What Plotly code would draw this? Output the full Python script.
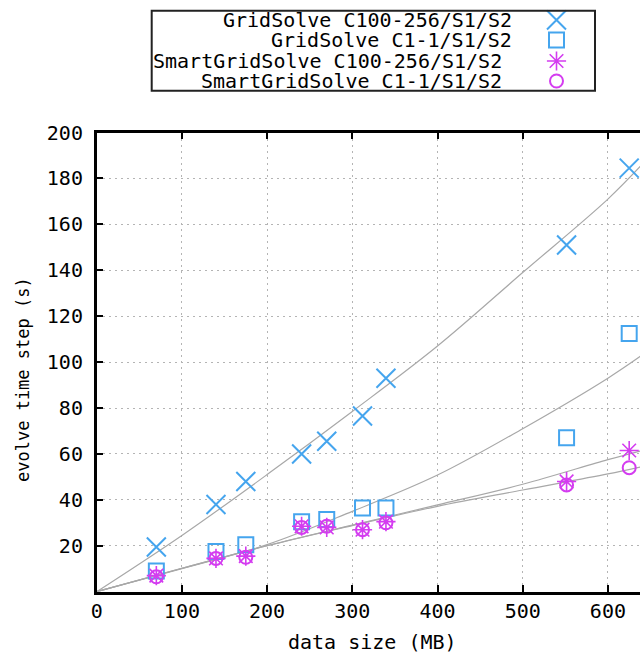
import plotly.graph_objects as go

# ---------------- data ----------------
data_size = [70, 140, 175, 240.5, 270, 312, 339.5, 551.5, 625]
gs_c100 = [19.5, 38, 48, 60, 65.5, 76.5, 93, 151, 184.5]
gs_c1 = [9, 17.5, 20.5, 30.5, 31.5, 36.5, 36.5, 67, 112.5]
sgs_c100 = [7, 14.5, 15.5, 28.5, 28, 27, 30.5, 48, 61.5]
sgs_c1 = [6.5, 14.5, 15, 28, 28.5, 27, 30, 46.5, 54]

# gray trend lines
fit_x = [0, 100, 200, 300, 400, 500, 600, 640]
fit_gs_c100 = [0, 24.5, 51, 78.5, 107, 139, 171, 186]
fit_gs_c1 = [0, 10, 20.5, 35, 50.8, 71, 93, 103]
fit_sgs_c100 = [0, 10.2, 20, 29, 37.8, 46.8, 57.5, 61.5]
fit_sgs_c1 = [0, 10.2, 20, 28.8, 37.2, 44.3, 51.3, 54.5]

series_names = ["GridSolve C100-256/S1/S2", "GridSolve C1-1/S1/S2",
                "SmartGridSolve C100-256/S1/S2", "SmartGridSolve C1-1/S1/S2"]
x_ticks = [0, 100, 200, 300, 400, 500, 600]
y_ticks = [20, 40, 60, 80, 100, 120, 140, 160, 180, 200]

BLUE = "#45a5ee"
MAG = "#d43cf0"
GRAY = "#a8a8a8"
FONT = "DejaVu Sans Mono"

W, H = 640, 654
styles = [
    dict(symbol="x-thin-open", size=19, color=BLUE, lw=2),
    dict(symbol="square-open", size=15, color=BLUE, lw=2),
    dict(symbol="asterisk-open", size=16, color=MAG, lw=1.6),
    dict(symbol="circle-open", size=13, color=MAG, lw=2),
]
values = [gs_c100, gs_c1, sgs_c100, sgs_c1]
fits = [fit_gs_c100, fit_gs_c1, fit_sgs_c100, fit_sgs_c1]

fig = go.Figure()

for f in fits:
    fig.add_trace(go.Scatter(x=fit_x, y=f, mode="lines",
                             line=dict(color=GRAY, width=1.2, shape="spline"),
                             hoverinfo="skip", showlegend=False))

for name, v, s in zip(series_names, values, styles):
    fig.add_trace(go.Scatter(
        x=data_size, y=v, mode="markers", name=name, showlegend=False,
        marker=dict(symbol=s["symbol"], size=s["size"], color=s["color"],
                    line=dict(color=s["color"], width=s["lw"]))))

# ---------- legend (gnuplot style: text left, symbol right) ----------
leg_left, leg_right, leg_top, leg_bot = 151.7, 595, 10.7, 90.7
row_y = [20, 40, 61, 81]
text_right = [513, 513, 503, 503]
sym_x = 556.5

for i, s in enumerate(styles):
    fig.add_trace(go.Scatter(
        x=[sym_x], y=[row_y[i]], xaxis="x2", yaxis="y2", mode="markers",
        showlegend=False, hoverinfo="skip",
        marker=dict(symbol=s["symbol"], size=s["size"], color=s["color"],
                    line=dict(color=s["color"], width=s["lw"]))))

annotations = []
for i, name in enumerate(series_names):
    annotations.append(dict(
        x=text_right[i] / W, y=1 - row_y[i] / H, xref="paper", yref="paper",
        text=name, showarrow=False, xanchor="right", yanchor="middle",
        borderpad=0, height=20,
        font=dict(family=FONT, size=20, color="black")))

# axis titles
annotations.append(dict(x=372 / W, y=1 - 642 / H, xref="paper", yref="paper",
                        text="data size (MB)", showarrow=False,
                        xanchor="center", yanchor="middle",
                        font=dict(family=FONT, size=20, color="black")))
annotations.append(dict(x=23 / W, y=1 - 380 / H, xref="paper", yref="paper",
                        text="evolve time step (s)", showarrow=False,
                        textangle=-90, xanchor="center", yanchor="middle",
                        font=dict(family=FONT, size=17, color="black")))

shapes = [dict(type="rect", xref="paper", yref="paper",
               x0=leg_left / W, x1=leg_right / W,
               y0=1 - leg_bot / H, y1=1 - leg_top / H,
               line=dict(color="#222", width=2), fillcolor="rgba(0,0,0,0)")]

x0_px, ytop_px, ybot_px = 96.7, 132.5, 591.7

fig.update_layout(
    width=W, height=H,
    margin=dict(l=0, r=0, t=0, b=0),
    paper_bgcolor="white", plot_bgcolor="rgba(0,0,0,0)",
    showlegend=False,
    font=dict(family=FONT, size=20, color="black"),
    annotations=annotations,
    shapes=shapes,
    xaxis=dict(domain=[x0_px / W, 1.0], range=[0, (W - x0_px) / 0.852],
               tickvals=x_ticks, ticktext=[str(t) for t in x_ticks],
               showline=True, linecolor="black", linewidth=2.5,
               mirror="ticks", ticks="inside", ticklen=7, tickwidth=2,
               tickcolor="black", showgrid=True, gridcolor="#b4b4b4",
               gridwidth=1.2, griddash="2px,4px", zeroline=False,
               tickfont=dict(family=FONT, size=20, color="black"),
               automargin=False, anchor="y", fixedrange=True),
    yaxis=dict(domain=[1 - ybot_px / H, 1 - ytop_px / H], range=[0, 200],
               tickvals=y_ticks, ticktext=[str(t) for t in y_ticks],
               showline=True, linecolor="black", linewidth=2.5,
               mirror=False, ticks="inside", ticklen=7, tickwidth=2,
               tickcolor="black", showgrid=True, gridcolor="#b4b4b4",
               gridwidth=1.2, griddash="2px,4px", zeroline=False,
               ticklabelstandoff=7,
               tickfont=dict(family=FONT, size=20, color="black"),
               automargin=False, anchor="x", fixedrange=True),
    xaxis2=dict(domain=[0, 1], range=[0, W], visible=False,
                anchor="y2", fixedrange=True),
    yaxis2=dict(domain=[0, 1], range=[H, 0], visible=False,
                anchor="x2", fixedrange=True),
)

fig.write_html("out.html",
               config={"displayModeBar": False},
               post_script="document.body.style.margin='0';"
                           "document.body.style.overflow='hidden';")
